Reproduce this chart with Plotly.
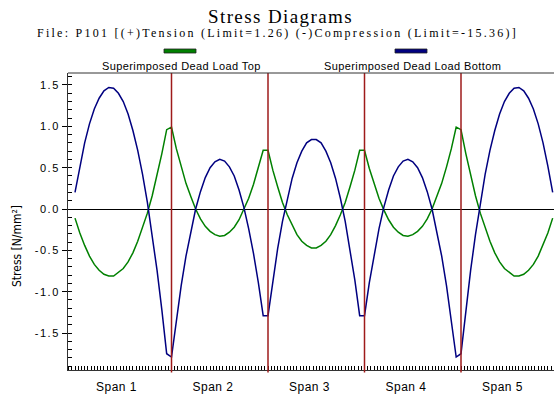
import plotly.graph_objects as go

# ---------------- data ----------------
span_names = ["Span 1", "Span 2", "Span 3", "Span 4", "Span 5"]
supports = [1, 2, 3, 4]            # support positions, in spans
station_step = 0.05                # station spacing, in spans

series_names = ["Superimposed Dead Load Top", "Superimposed Dead Load Bottom"]

bottom_stress = [
    # span 1
    0.20, 0.52, 0.80, 1.03, 1.21, 1.34, 1.43, 1.47, 1.46, 1.40,
    1.30, 1.15, 0.95, 0.71, 0.42, 0.08, -0.31, -0.74, -1.22, -1.75,
    # span 2
    -1.79, -1.34, -0.93, -0.57, -0.27, 0.00, 0.21, 0.38, 0.50, 0.57,
    0.60, 0.58, 0.51, 0.40, 0.23, 0.02, -0.24, -0.54, -0.89, -1.29,
    # span 3
    -1.29, -0.86, -0.48, -0.15, 0.13, 0.37, 0.56, 0.70, 0.80, 0.84,
    0.84, 0.80, 0.70, 0.56, 0.37, 0.13, -0.15, -0.48, -0.86, -1.29,
    # span 4
    -1.29, -0.89, -0.54, -0.24, 0.02, 0.23, 0.40, 0.51, 0.58, 0.60,
    0.57, 0.50, 0.38, 0.21, 0.00, -0.27, -0.57, -0.93, -1.34, -1.79,
    # span 5
    -1.75, -1.22, -0.74, -0.31, 0.08, 0.42, 0.71, 0.95, 1.15, 1.30,
    1.40, 1.46, 1.47, 1.43, 1.34, 1.21, 1.03, 0.80, 0.52, 0.20,
]

top_stress = [
    # span 1
    -0.11, -0.29, -0.44, -0.57, -0.67, -0.74, -0.79, -0.81, -0.81, -0.77,
    -0.72, -0.64, -0.53, -0.39, -0.23, -0.05, 0.16, 0.40, 0.67, 0.96,
    # span 2
    0.99, 0.73, 0.51, 0.31, 0.15, 0.00, -0.12, -0.21, -0.27, -0.31,
    -0.33, -0.32, -0.28, -0.22, -0.13, -0.01, 0.13, 0.30, 0.49, 0.71,
    # span 3
    0.71, 0.47, 0.27, 0.08, -0.07, -0.20, -0.31, -0.39, -0.44, -0.47,
    -0.47, -0.44, -0.39, -0.31, -0.20, -0.07, 0.08, 0.27, 0.47, 0.71,
    # span 4
    0.71, 0.49, 0.30, 0.13, -0.01, -0.13, -0.22, -0.28, -0.32, -0.33,
    -0.31, -0.27, -0.21, -0.12, 0.00, 0.15, 0.31, 0.51, 0.73, 0.99,
    # span 5
    0.96, 0.67, 0.40, 0.16, -0.05, -0.23, -0.39, -0.53, -0.64, -0.72,
    -0.77, -0.81, -0.81, -0.79, -0.74, -0.67, -0.57, -0.44, -0.29, -0.11,
]

y_tick_values = [-1.5, -1.0, -0.5, 0.0, 0.5, 1.0, 1.5]
y_tick_labels = ["-1.5", "-1.0", "-0.5", "0.0", "0.5", "1.0", "1.5"]

title_text = "Stress Diagrams"
subtitle_text = "File: P101 [(+)Tension (Limit=1.26) (-)Compression (Limit=-15.36)]"
y_title = "Stress [N/mm²]"

# ---------------- styling ----------------
GREEN = "#008000"
NAVY = "#000080"
RED = "#9E1B1B"
SANS = "Liberation Sans, Arial, sans-serif"
SERIF = "Liberation Serif, Times New Roman, serif"
NARROW = "Liberation Sans Narrow, Arial Narrow, DejaVu Sans Condensed, sans-serif"

W, H = 554, 397
ML, MR, MT, MB = 68, 0, 73, 27
PW, PH = W - ML - MR, H - MT - MB

def px_x(x):
    return (x - ML) / PW

def px_y(y):
    return 1 - (y - MT) / PH

def spaced(txt, sp):
    return f'<span style="letter-spacing:{sp}px">{txt}</span>'

stations = [round(i * station_step, 4) for i in range(len(bottom_stress))]

fig = go.Figure()
fig.add_trace(go.Scatter(x=stations, y=top_stress, mode="lines",
                         line=dict(color=GREEN, width=1.5), name=series_names[0],
                         showlegend=False))
fig.add_trace(go.Scatter(x=stations, y=bottom_stress, mode="lines",
                         line=dict(color=NAVY, width=1.5), name=series_names[1],
                         showlegend=False))

# support lines
for s in supports:
    fig.add_shape(type="line", xref="x", yref="paper", x0=s, x1=s, y0=-0.008, y1=1,
                  line=dict(color=RED, width=1.5), layer="above")

# top border of plot area
fig.add_shape(type="line", xref="paper", yref="paper", x0=0, x1=1, y0=1, y1=1,
              line=dict(color="#333333", width=1))

# legend swatches + labels
legend_centres = [180, 411]
for name, col, cx in zip(series_names, [GREEN, NAVY], legend_centres):
    fig.add_shape(type="rect", xref="paper", yref="paper",
                  x0=px_x(cx - 16), x1=px_x(cx + 16), y0=px_y(53), y1=px_y(49),
                  fillcolor=col, line=dict(color="#222222", width=0.8))
    fig.add_annotation(text=spaced(name, 0.4), xref="paper", yref="paper",
                       x=px_x(cx + 1), y=px_y(66), xanchor="center", yanchor="middle",
                       showarrow=False, font=dict(family=SANS, size=11, color="black"))

# titles
fig.add_annotation(text=spaced(title_text, 1.4), xref="paper", yref="paper",
                   x=px_x(280), y=px_y(17), xanchor="center", yanchor="middle",
                   showarrow=False, font=dict(family=SERIF, size=19, color="black"))
fig.add_annotation(text=spaced(subtitle_text, 2.25), xref="paper", yref="paper",
                   x=px_x(277), y=px_y(33), xanchor="center", yanchor="middle",
                   showarrow=False, font=dict(family=SERIF, size=12, color="black"))

# y axis title
fig.add_annotation(text=y_title, xref="paper", yref="paper",
                   x=px_x(17), y=px_y(246), xanchor="center", yanchor="middle",
                   textangle=-90, showarrow=False,
                   font=dict(family=NARROW, size=12, color="black"))

x_left = (ML - 75) / 96.5
x_right = (W - 75) / 96.5

fig.update_layout(
    width=W, height=H,
    margin=dict(l=ML, r=MR, t=MT, b=MB, pad=0),
    paper_bgcolor="white", plot_bgcolor="white",
    showlegend=False,
    xaxis=dict(
        range=[x_left, x_right], showgrid=False, zeroline=False,
        showline=True, linecolor="#333333", linewidth=1,
        tickmode="array",
        tickvals=[i + 0.43 for i in range(len(span_names))],
        ticktext=[spaced(n, 0.5) for n in span_names],
        ticks="", ticklabelstandoff=6,
        tickfont=dict(family=SANS, size=12, color="black"),
        minor=dict(tickmode="linear", tick0=0, dtick=1 / 30, ticks="inside",
                   ticklen=4, tickcolor="black", tickwidth=1, showgrid=False),
        automargin=False, fixedrange=True,
    ),
    yaxis=dict(
        range=[-1.947, 1.645], showgrid=False,
        zeroline=True, zerolinecolor="black", zerolinewidth=1,
        showline=True, linecolor="#333333", linewidth=1,
        tickmode="array", tickvals=y_tick_values,
        ticktext=[spaced(t, 1.5) for t in y_tick_labels],
        ticks="outside", ticklen=5, tickcolor="black", tickwidth=1,
        tickfont=dict(family=SANS, size=11, color="black"),
        minor=dict(tickmode="linear", tick0=0, dtick=0.1, ticks="inside",
                   ticklen=4, tickcolor="black", tickwidth=1, showgrid=False),
        automargin=False, fixedrange=True,
    ),
)

fig.write_html("out.html")
